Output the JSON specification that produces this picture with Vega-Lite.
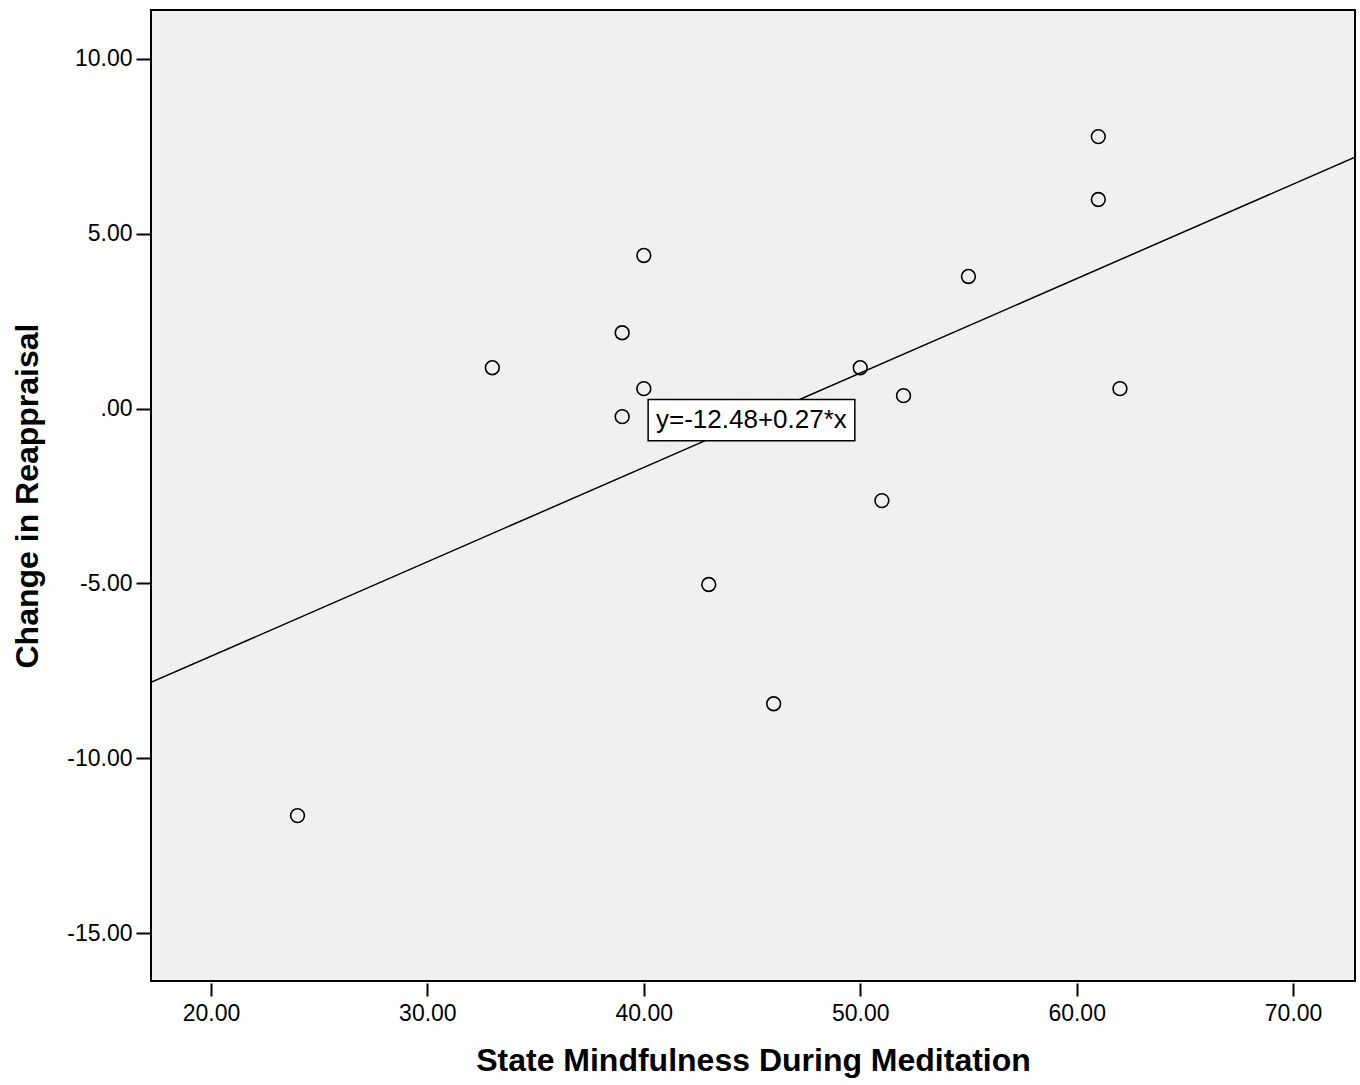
{
  "$schema": "https://vega.github.io/schema/vega-lite/v6.json",
  "width": 1204,
  "height": 971,
  "autosize": {"type": "none"},
  "padding": {"left": 151, "top": 10, "right": 5, "bottom": 104},
  "background": "white",
  "config": {
    "view": {"fill": "#F0F0F0", "stroke": "#000000", "strokeWidth": 2},
    "font": "Liberation Sans"
  },
  "datasets": {
    "points": [
      {"mindfulness": 24, "reappraisal": -11.64},
      {"mindfulness": 33, "reappraisal": 1.17},
      {"mindfulness": 39, "reappraisal": 2.17},
      {"mindfulness": 39, "reappraisal": -0.23},
      {"mindfulness": 40, "reappraisal": 4.38},
      {"mindfulness": 40, "reappraisal": 0.57},
      {"mindfulness": 43, "reappraisal": -5.03},
      {"mindfulness": 46, "reappraisal": -8.44},
      {"mindfulness": 50, "reappraisal": 1.17},
      {"mindfulness": 51, "reappraisal": -2.63},
      {"mindfulness": 52, "reappraisal": 0.37},
      {"mindfulness": 55, "reappraisal": 3.78},
      {"mindfulness": 61, "reappraisal": 7.78},
      {"mindfulness": 61, "reappraisal": 5.98},
      {"mindfulness": 62, "reappraisal": 0.57}
    ],
    "fit": [
      {"mindfulness": 17.23, "reappraisal": -7.83},
      {"mindfulness": 72.86, "reappraisal": 7.19}
    ],
    "label": [
      {"x1": 40.2, "x2": 49.75, "y1": 0.26, "y2": -0.92, "xc": 44.97, "yc": -0.33, "text": "y=-12.48+0.27*x"}
    ]
  },
  "layer": [
    {
      "data": {"name": "fit"},
      "mark": {"type": "line", "color": "#000000", "strokeWidth": 1.5, "clip": true},
      "encoding": {
        "x": {
          "field": "mindfulness", "type": "quantitative",
          "scale": {"domain": [17.23, 72.86], "nice": false, "zero": false},
          "axis": {
            "title": "State Mindfulness During Meditation",
            "values": [20, 30, 40, 50, 60, 70],
            "format": ".2f",
            "grid": false, "domain": false,
            "offset": 2, "tickSize": 13, "tickWidth": 2, "tickColor": "#000000",
            "labelFontSize": 23, "labelColor": "#000000", "labelPadding": 6, "labelFont": "Liberation Sans",
            "titleFontSize": 32, "titleFontWeight": "bold", "titleColor": "#000000", "titlePadding": 20, "titleFont": "Liberation Sans"
          }
        },
        "y": {
          "field": "reappraisal", "type": "quantitative",
          "scale": {"domain": [-16.37, 11.4], "nice": false, "zero": false},
          "axis": {
            "title": "Change in Reappraisal",
            "values": [-15, -10, -5, 0, 5, 10],
            "labelExpr": "datum.value == 0 ? '.00' : (datum.value < 0 ? '-' + format(-datum.value, '.2f') : format(datum.value, '.2f'))",
            "grid": false, "domain": false,
            "offset": 1, "tickSize": 14, "tickWidth": 2, "tickColor": "#000000",
            "labelFontSize": 23, "labelColor": "#000000", "labelPadding": 4, "labelFont": "Liberation Sans",
            "titleFontSize": 32, "titleFontWeight": "bold", "titleColor": "#000000", "titlePadding": 22, "titleFont": "Liberation Sans"
          }
        }
      }
    },
    {
      "data": {"name": "points"},
      "mark": {"type": "point", "shape": "circle", "filled": false, "stroke": "#000000", "strokeWidth": 1.6, "size": 190, "opacity": 1},
      "encoding": {
        "x": {"field": "mindfulness", "type": "quantitative"},
        "y": {"field": "reappraisal", "type": "quantitative"}
      }
    },
    {
      "data": {"name": "label"},
      "mark": {"type": "rect", "fill": "#FFFFFF", "stroke": "#000000", "strokeWidth": 1.5},
      "encoding": {
        "x": {"field": "x1", "type": "quantitative"},
        "x2": {"field": "x2"},
        "y": {"field": "y1", "type": "quantitative"},
        "y2": {"field": "y2"}
      }
    },
    {
      "data": {"name": "label"},
      "mark": {"type": "text", "fontSize": 26, "font": "Liberation Sans", "color": "#000000", "align": "center", "baseline": "middle"},
      "encoding": {
        "x": {"field": "xc", "type": "quantitative"},
        "y": {"field": "yc", "type": "quantitative"},
        "text": {"field": "text"}
      }
    }
  ]
}
